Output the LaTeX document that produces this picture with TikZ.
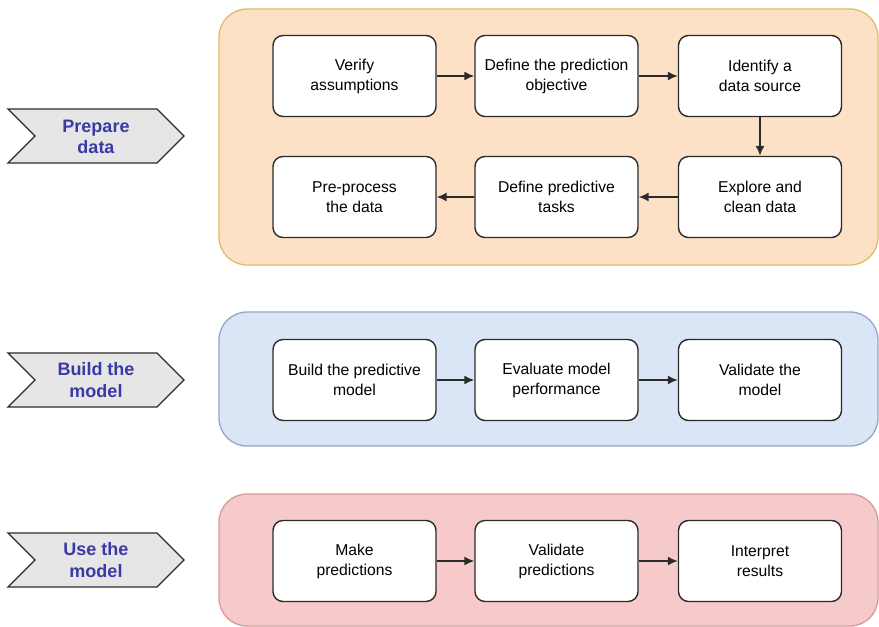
\documentclass[tikz,border=0pt]{standalone}
\usepackage{fontspec}
\setmainfont{Liberation Sans}
\usetikzlibrary{arrows.meta}
\definecolor{prepfill}{HTML}{FCE1C6}
\definecolor{prepline}{HTML}{DDBE66}
\definecolor{buildfill}{HTML}{DAE6F5}
\definecolor{buildline}{HTML}{8FA8CC}
\definecolor{usefill}{HTML}{F6CACA}
\definecolor{useline}{HTML}{D99B9B}
\definecolor{chevfill}{HTML}{E6E6E6}
\definecolor{chevtext}{HTML}{3A3AA6}
\definecolor{edge}{HTML}{2B2B2B}
\tikzset{
  panel/.style={rounded corners=28pt, line width=1.3pt},
  stepbox/.style={draw=edge, fill=white, rounded corners=10pt, line width=1.4pt,
    minimum width=163pt, minimum height=81pt, align=center,
    font=\fontsize{15.7}{20}\selectfont, inner sep=0pt},
  flow/.style={draw=edge, line width=1.6pt, -{Latex[length=10pt,width=9pt]}},
  chevron/.style={draw=edge, fill=chevfill, line width=1.4pt, line join=miter},
  chevlabel/.style={text=chevtext, align=center,
    font=\bfseries\fontsize{18}{21.5}\selectfont, inner sep=0pt}
}
\begin{document}
\begin{tikzpicture}[x=1pt,y=-1pt]
\useasboundingbox (0,0) rectangle (879,627);

% stage panels
\draw[panel, fill=prepfill, draw=prepline] (219,9) rectangle (878,265);
\draw[panel, fill=buildfill, draw=buildline] (219,312) rectangle (878,446);
\draw[panel, fill=usefill, draw=useline] (219,494) rectangle (878,626);

% stage chevrons
\foreach \cy in {136,380,560} {
  \draw[chevron] (8,\cy-27) -- (157,\cy-27) -- (184,\cy) -- (157,\cy+27)
    -- (8,\cy+27) -- (35,\cy) -- cycle;
}
\node[chevlabel] (prep) at (96,137) {Prepare\\data};
\node[chevlabel] (build) at (96,380) {Build the\\model};
\node[chevlabel] (use) at (96,560) {Use the\\model};

% prepare data steps
\node[stepbox] (verify) at (354.5,76) {Verify\\assumptions};
\node[stepbox] (objective) at (556.5,76) {Define the prediction\\objective};
\node[stepbox] (source) at (760,76) {Identify a\\data source};
\node[stepbox] (explore) at (760,197) {Explore and\\clean data};
\node[stepbox] (tasks) at (556.5,197) {Define predictive\\tasks};
\node[stepbox] (preproc) at (354.5,197) {Pre-process\\the data};

% build the model steps
\node[stepbox] (buildm) at (354.5,380) {Build the predictive\\model};
\node[stepbox] (evaluate) at (556.5,380) {Evaluate model\\performance};
\node[stepbox] (validate) at (760,380) {Validate the\\model};

% use the model steps
\node[stepbox] (predict) at (354.5,561) {Make\\predictions};
\node[stepbox] (valpred) at (556.5,561) {Validate\\predictions};
\node[stepbox] (interpret) at (760,561) {Interpret\\results};

% connectors
\draw[flow] (verify) -- (objective);
\draw[flow] (objective) -- (source);
\draw[flow] (source) -- (explore);
\draw[flow] (explore) -- (tasks);
\draw[flow] (tasks) -- (preproc);
\draw[flow] (buildm) -- (evaluate);
\draw[flow] (evaluate) -- (validate);
\draw[flow] (predict) -- (valpred);
\draw[flow] (valpred) -- (interpret);
\end{tikzpicture}
\end{document}
